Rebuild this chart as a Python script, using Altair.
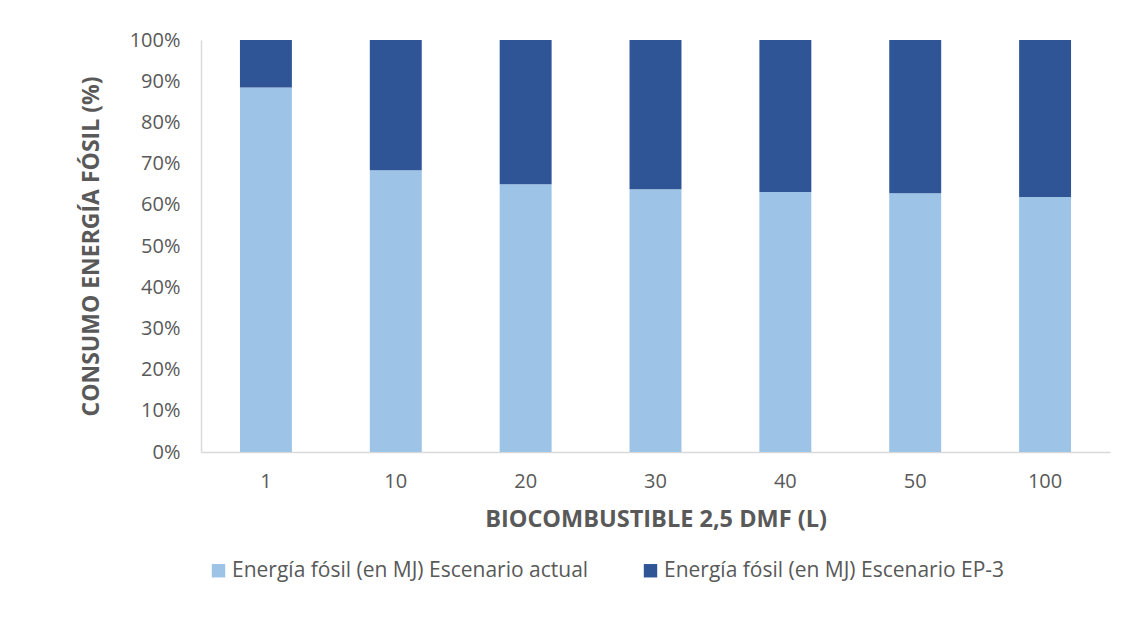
import altair as alt
import pandas as pd

categories = ["1", "10", "20", "30", "40", "50", "100"]
actual = [88.5, 68.4, 65.0, 63.8, 63.1, 62.8, 61.9]
ep3 = [11.5, 31.6, 35.0, 36.2, 36.9, 37.2, 38.1]
series_names = ["Energía fósil (en MJ) Escenario actual", "Energía fósil (en MJ) Escenario EP-3"]
colors = ["#9DC3E6", "#2F5597"]
y_ticks = [0, 10, 20, 30, 40, 50, 60, 70, 80, 90, 100]

rows = []
for c, a, e in zip(categories, actual, ep3):
    rows.append({"cat": c, "serie": series_names[0], "val": a, "ord": 0})
    rows.append({"cat": c, "serie": series_names[1], "val": e, "ord": 1})
df = pd.DataFrame(rows)

FONT = "Open Sans"
GRAY = "#595959"

bars = alt.Chart(df).mark_bar().encode(
    x=alt.X("cat:N", sort=categories,
            scale=alt.Scale(paddingInner=0.6, paddingOuter=0.3),
            axis=alt.Axis(title="BIOCOMBUSTIBLE 2,5 DMF (L)", labelAngle=0, ticks=False,
                          domainColor="#d9d9d9", domainWidth=1.5, labelPadding=19,
                          labelFontSize=20, labelColor=GRAY, labelFont=FONT,
                          titleFont=FONT, titleFontSize=23.5, titleFontWeight="bold",
                          titleColor=GRAY, titlePadding=16)),
    y=alt.Y("val:Q", stack="zero",
            scale=alt.Scale(domain=[0, 100], nice=False),
            axis=alt.Axis(title="CONSUMO ENERGÍA FÓSIL (%)", values=y_ticks,
                          labelExpr="datum.value + '%'", grid=False, ticks=False,
                          domainColor="#d9d9d9", domainWidth=1.5, labelPadding=21,
                          labelFontSize=20, labelColor=GRAY, labelFont=FONT,
                          titleFont=FONT, titleFontSize=23, titleFontWeight="bold",
                          titleColor=GRAY, titlePadding=26)),
    color=alt.Color("serie:N", sort=series_names,
                    scale=alt.Scale(domain=series_names, range=colors),
                    legend=alt.Legend(title=None, orient="none", direction="horizontal",
                                      legendX=7, legendY=520, symbolType="square",
                                      symbolSize=180, symbolStrokeWidth=0,
                                      labelFont=FONT, labelFontSize=21, labelColor=GRAY,
                                      columnPadding=51, labelOffset=3,
                                      labelLimit=600)),
    order=alt.Order("ord:Q", sort="ascending"),
)

chart = bars.properties(
    width=909, height=412,
    background="#ffffff",
    autosize=alt.AutoSizeParams(type="none"),
    padding={"left": 193, "top": 32, "right": 13, "bottom": 168},
).configure_view(stroke=None)

chart.save("out.html", embed_options={"renderer": "svg", "actions": False})
